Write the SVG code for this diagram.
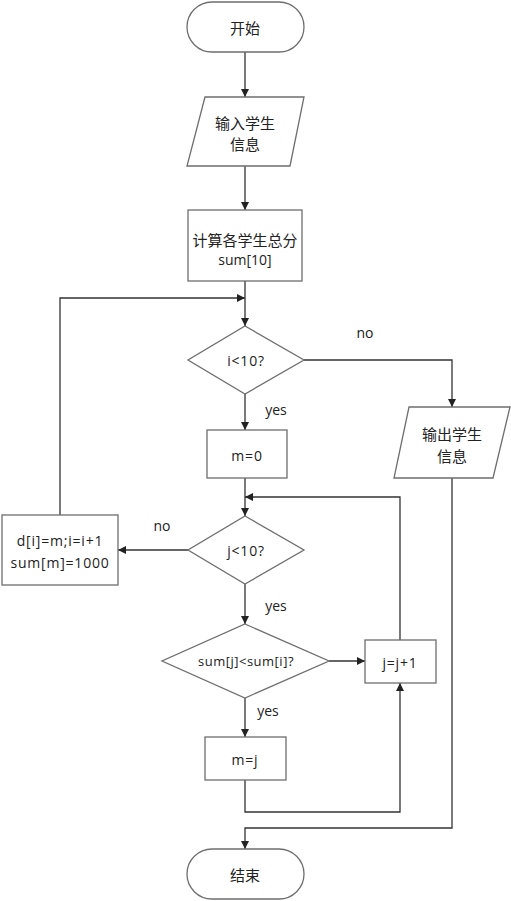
<svg xmlns="http://www.w3.org/2000/svg" width="511" height="901" viewBox="0 0 511 901">
<defs>
<marker id="arr" viewBox="0 0 10 10" refX="10" refY="5" markerWidth="8" markerHeight="8" markerUnits="userSpaceOnUse" orient="auto">
<path d="M0,0 L10,5 L0,10 z" fill="#222"/>
</marker>
<style>
.s{fill:#fff;stroke:#6e6e6e;stroke-width:1.3}
.c{fill:none;stroke:#333;stroke-width:1.3;marker-end:url(#arr)}
text{font-family:"Open Sans","Noto Sans CJK SC",sans-serif;font-size:14px;fill:#222;text-anchor:middle;dominant-baseline:central}
.cj{font-family:"Noto Sans CJK SC",sans-serif;font-size:15px}
.f{letter-spacing:0.8px}
.sm{font-size:13px;letter-spacing:0.5px}
</style>
</defs>
<rect width="511" height="901" fill="#fff"/>
<g id="connectors">
<path class="c" d="M245,52 V97"/>
<path class="c" d="M245,166 V210"/>
<path class="c" d="M245,281 V326"/>
<path class="c" d="M60,515 V298 H245"/>
<path class="c" d="M304,360 H452 V407"/>
<path class="c" d="M245,394 V430"/>
<path class="c" d="M245,478 V516"/>
<path class="c" d="M400,640 V497 H245"/>
<path class="c" d="M188,550 H118"/>
<path class="c" d="M245,584 V624"/>
<path class="c" d="M329,661 H365"/>
<path class="c" d="M245,698 V737"/>
<path class="c" d="M245,780 V812 H400 V683"/>
<path class="c" d="M452,478 V828 H245 V849"/>
</g>
<g id="start"><rect class="s" x="187" y="2" width="117" height="50" rx="25"/><text class="cj" x="245" y="27">开始</text></g>
<g id="input"><path class="s" d="M205,97 H304 L290,166 H187 z"/><text class="cj" x="245" y="122">输入学生</text><text class="cj" x="245" y="143">信息</text></g>
<g id="calc"><rect class="s" x="188" y="210" width="114" height="71"/><text class="cj" x="245" y="239">计算各学生总分</text><text x="245" y="259">sum[10]</text></g>
<g id="cond-i"><path class="s" d="M245,326 L304,360 L245,394 L188,360 z"/><text class="f" x="246" y="360">i&lt;10?</text></g>
<g id="output"><path class="s" d="M409,407 H510 L493,478 H394 z"/><text class="cj" x="452" y="433">输出学生</text><text class="cj" x="452" y="455">信息</text></g>
<g id="m0"><rect class="s" x="207" y="430" width="80" height="48"/><text class="f" x="247" y="455">m=0</text></g>
<g id="cond-j"><path class="s" d="M245,516 L304,550 L245,584 L188,550 z"/><text class="f" x="246" y="550">j&lt;10?</text></g>
<g id="update"><rect class="s" x="2" y="515" width="116" height="70"/><text class="f" x="60" y="540">d[i]=m;i=i+1</text><text class="f" x="60" y="562">sum[m]=1000</text></g>
<g id="cond-sum"><path class="s" d="M245,624 L329,661 L245,698 L162,661 z"/><text class="sm" x="246" y="661">sum[j]&lt;sum[i]?</text></g>
<g id="jinc"><rect class="s" x="365" y="640" width="71" height="43"/><text class="f" x="400" y="662">j=j+1</text></g>
<g id="mj"><rect class="s" x="205" y="737" width="81" height="43"/><text class="f" x="245" y="759">m=j</text></g>
<g id="end"><rect class="s" x="187" y="849" width="117" height="50" rx="25"/><text class="cj" x="245" y="874">结束</text></g>
<g id="labels">
<text x="365" y="332">no</text>
<text x="276" y="409">yes</text>
<text x="162" y="525">no</text>
<text x="276" y="605">yes</text>
<text x="268" y="710">yes</text>
</g>
</svg>
